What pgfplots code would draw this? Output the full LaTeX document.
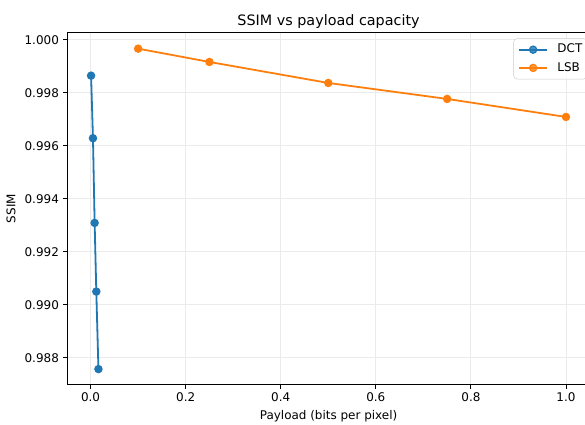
\documentclass[border=0pt]{standalone}
\usepackage{fontspec}
\setmainfont{DejaVu Sans}
\usepackage{pgfplots}
\pgfplotsset{compat=1.18}
\definecolor{c0}{HTML}{1F77B4}
\definecolor{c1}{HTML}{FF7F0E}
\definecolor{gridc}{HTML}{EBEBEB}
\definecolor{legc}{HTML}{CCCCCC}
\begin{document}
\begin{tikzpicture}
\path[use as bounding box] (0,0) rectangle (487.3bp,353.2bp);
\begin{axis}[
  at={(56.06bp,33.07bp)}, anchor=south west, scale only axis,
  width=435.2bp, height=292.9bp,
  xmin=-0.049, xmax=1.050, ymin=0.98700, ymax=1.000275,
  axis line style={line width=0.8bp, black},
  tick align=outside, tick pos=left,
  major tick length=3.5bp,
  every tick/.style={black, line width=0.8bp},
  xtick={0,0.2,0.4,0.6,0.8,1.0},
  ytick={0.988,0.990,0.992,0.994,0.996,0.998,1.000},
  scaled x ticks=false, scaled y ticks=false,
  grid=major, major grid style={line width=0.8bp, gridc},
  /pgf/number format/assume math mode=true,
  ticklabel style={font=\fontsize{10}{12}\selectfont},
  xticklabel style={/pgf/number format/fixed, /pgf/number format/fixed zerofill, /pgf/number format/precision=1},
  yticklabel style={/pgf/number format/fixed, /pgf/number format/fixed zerofill, /pgf/number format/precision=3},
  title={SSIM vs payload capacity},
  title style={font=\fontsize{12}{14}\selectfont, at={(axis description cs:0.5,1)}, anchor=base, yshift=0bp},
  xlabel={Payload (bits per pixel)},
  xlabel style={font=\fontsize{10}{12}\selectfont, at={(axis description cs:0.5,0)}, anchor=base, yshift=-29.5bp},
  ylabel={SSIM},
  ylabel style={font=\fontsize{10}{12}\selectfont, at={(axis description cs:-0.1077,0.5)}, anchor=center},
  legend style={at={(axis description cs:1,1)}, anchor=north east, xshift=-2bp, yshift=-4.7bp,
    draw=legc, rounded corners=3bp, fill=white, fill opacity=0.8, text opacity=1,
    font=\fontsize{10}{12}\selectfont,
    inner xsep=4bp, inner ysep=4.5bp,
    nodes={inner sep=0pt, text height=7.5bp, text depth=2bp},
    row sep=5.7bp, column sep=8bp},
  legend cell align=left,
  legend image code/.code={\draw[line width=1.5bp, mark repeat=2, mark phase=2] plot coordinates {(0bp,0bp) (11.5bp,0bp) (23bp,0bp)};},
]
\addplot[c0, line width=1.5bp, mark=*, mark size=3bp, mark options={solid, fill=c0, draw=c0, line width=1bp}]
  coordinates {(0.001,0.998653) (0.005,0.996291) (0.0085,0.993094) (0.012,0.990502) (0.0165,0.987574)};
\addlegendentry{DCT}
\addplot[c1, line width=1.5bp, mark=*, mark size=3bp, mark options={solid, fill=c1, draw=c1, line width=1bp}]
  coordinates {(0.1,0.999672) (0.25,0.999170) (0.5,0.998377) (0.75,0.997774) (1.0,0.997094)};
\addlegendentry{LSB}
\end{axis}
\end{tikzpicture}
\end{document}
